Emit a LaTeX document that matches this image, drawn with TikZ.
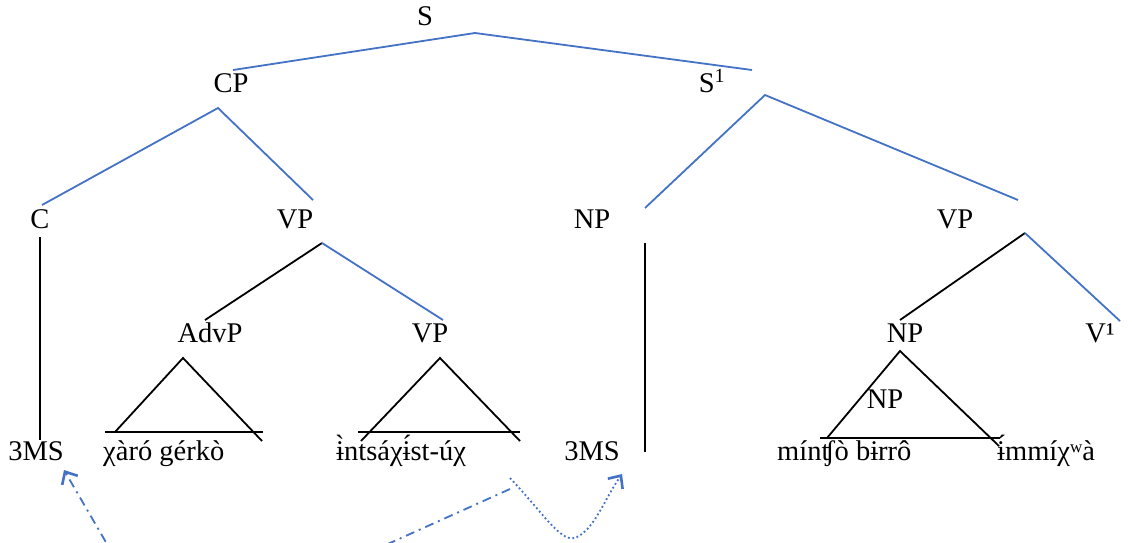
\documentclass[tikz,border=0pt]{standalone}
\usepackage{fontspec}
\setmainfont{Liberation Serif}
\usetikzlibrary{arrows.meta}
\definecolor{tblue}{RGB}{68,114,196}
\begin{document}
\begin{tikzpicture}[x=1pt,y=-1pt,
  lab/.style={font=\fontsize{28.5}{30}\selectfont, inner sep=0pt, anchor=base},
  labw/.style={lab, anchor=base west},
  blueline/.style={draw=tblue, line width=1.8pt},
  blackline/.style={draw=black, line width=1.8pt},
  dashdotline/.style={draw=tblue, line width=1.8pt, dash pattern=on 9pt off 5pt on 2pt off 5pt},
  dotline/.style={draw=tblue, line width=1.8pt, dash pattern=on 1.8pt off 2.6pt},
  tip/.style={-{Straight Barb[length=10pt,width=18pt,line width=2.6pt]}}
]
\useasboundingbox (0,0) rectangle (1132,542);
\clip (0,0) rectangle (1132,542);
\fill[white] (0,0) rectangle (1132,542);

% labels
\node[lab] (S) at (425,25) {S};
\node[lab] (CP) at (231,92) {CP};
\node[lab] (S1) at (712,92) {S\textsuperscript{1}};
\node[lab] (C) at (40,228) {C};
\node[lab] (VPa) at (295,228) {VP};
\node[lab] (NPa) at (592,228) {NP};
\node[lab] (VPb) at (955,228) {VP};
\node[lab] (AdvP) at (210,342) {AdvP};
\node[lab] (VPc) at (430,342) {VP};
\node[lab] (NPb) at (905,342) {NP};
\node[lab] (V1) at (1100,342) {V¹};
\node[lab] (NPc) at (885,408) {NP};
\node[lab] (MSa) at (36,460) {3MS};
\node[labw] (xaro) at (103,460) {χàró gérkò};
\node[labw] (ints) at (336,460) {ɨ̀ntsáχɨ́st-úχ};
\node[lab] (MSb) at (592,460) {3MS};
\node[labw] (mint) at (777,460) {mínʧò bɨrrô};
\node[labw] (immi) at (997,460) {ɨ́mmíχʷà};

% branch points
\coordinate (sTop) at (475,33);
\coordinate (sL) at (233,70);
\coordinate (sR) at (752,70);
\coordinate (cpTop) at (218,108);
\coordinate (cpL) at (42,205);
\coordinate (cpR) at (313,200);
\coordinate (s1Top) at (765,95);
\coordinate (s1L) at (645,208);
\coordinate (s1R) at (1018,200);
\coordinate (cTop) at (40,237);
\coordinate (cBot) at (40,440);
\coordinate (vpTop) at (322,243);
\coordinate (vpL) at (205,320);
\coordinate (vpR) at (443,320);
\coordinate (npTop) at (645,243);
\coordinate (npBot) at (645,452);
\coordinate (vp2Top) at (1025,233);
\coordinate (vp2L) at (900,320);
\coordinate (vp2R) at (1120,321);
% triangles
\coordinate (t1A) at (183,358);
\coordinate (t1L) at (115,432);
\coordinate (t1R) at (262,441);
\coordinate (t1bL) at (105,432);
\coordinate (t1bR) at (263,432);
\coordinate (t2A) at (440,358);
\coordinate (t2L) at (361,441);
\coordinate (t2R) at (520,441);
\coordinate (t2bL) at (358,432);
\coordinate (t2bR) at (520,432);
\coordinate (t3A) at (900,351);
\coordinate (t3L) at (827,438);
\coordinate (t3R) at (999,446);
\coordinate (t3bL) at (820,438);
\coordinate (t3bR) at (1000,438);
% arrows
\coordinate (aStart) at (510,489);
\coordinate (aOut1) at (330,570);
\coordinate (aOut2) at (125,575);
\coordinate (aEnd) at (64,470);
\coordinate (dStart) at (510,478);
\coordinate (dEnd) at (622,474);

\draw[blueline] (sL) -- (sTop) -- (sR);
\draw[blueline] (cpL) -- (cpTop) -- (cpR);
\draw[blueline] (s1L) -- (s1Top) -- (s1R);
\draw[blackline] (cTop) -- (cBot);
\draw[blackline] (vpL) -- (vpTop);
\draw[blueline] (vpTop) -- (vpR);
\draw[blackline] (npTop) -- (npBot);
\draw[blackline] (vp2L) -- (vp2Top);
\draw[blueline] (vp2Top) -- (vp2R);

\draw[blackline] (t1L) -- (t1A) -- (t1R);
\draw[blackline] (t1bL) -- (t1bR);
\draw[blackline] (t2L) -- (t2A) -- (t2R);
\draw[blackline] (t2bL) -- (t2bR);
\draw[blackline] (t3L) -- (t3A) -- (t3R);
\draw[blackline] (t3bL) -- (t3bR);

\draw[dashdotline, tip] (aStart) -- (aOut1) -- (aOut2) -- (aEnd);
\draw[dotline, tip] (dStart) .. controls (545,515) and (562,545) .. (577,537)
  .. controls (595,528) and (604,500) .. (dEnd);
\end{tikzpicture}
\end{document}
